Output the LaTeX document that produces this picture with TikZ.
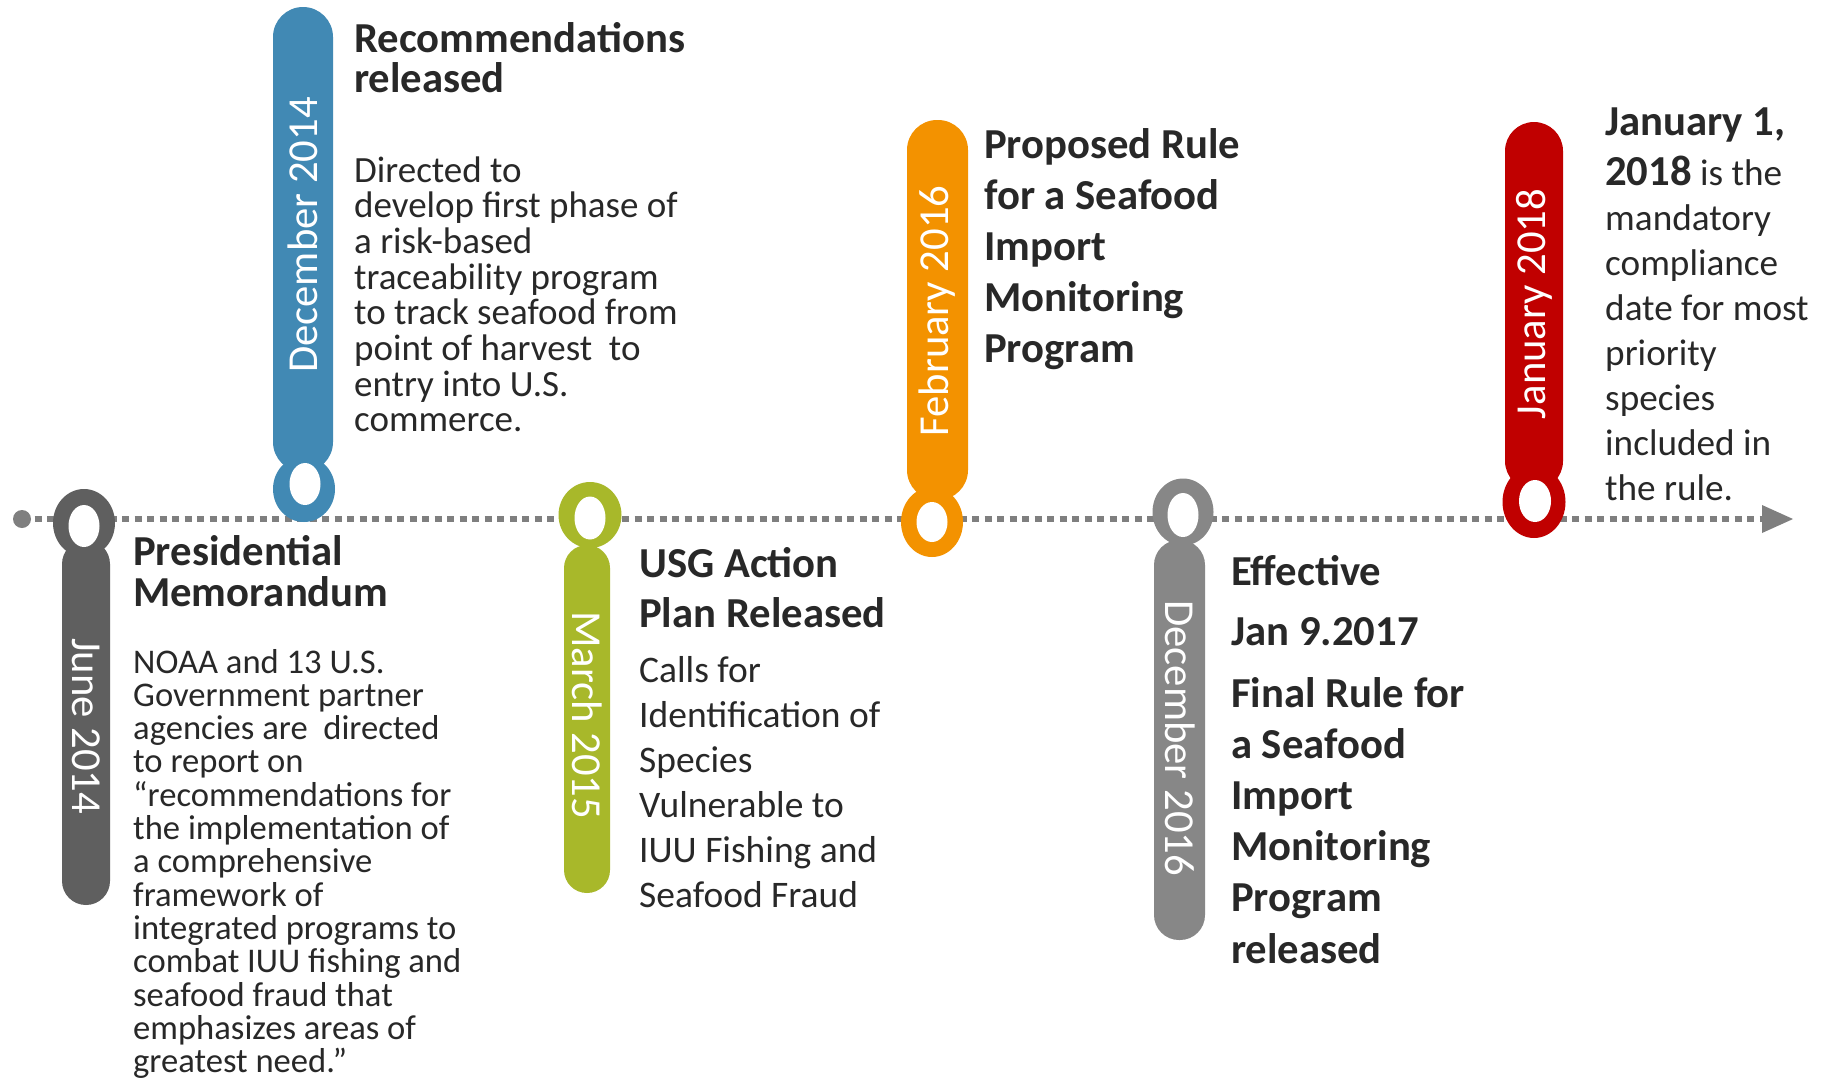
\documentclass[tikz,border=0pt]{standalone}
\usepackage{fontspec}
\setmainfont{Carlito}
\definecolor{cjun}{HTML}{5F5F5F}
\definecolor{cdec}{HTML}{4189B4}
\definecolor{cmar}{HTML}{A8B82A}
\definecolor{cfeb}{HTML}{F39200}
\definecolor{cdsx}{HTML}{878787}
\definecolor{cjan}{HTML}{C00000}
\definecolor{linegray}{HTML}{7F7F7F}
\definecolor{txt}{HTML}{282828}
\tikzset{
  bodytxt/.style={anchor=base west, inner sep=0pt, text=txt, font=\fontsize{#1}{#1}\selectfont},
  headtxt/.style={anchor=base west, inner sep=0pt, text=txt, font=\bfseries\fontsize{#1}{#1}\selectfont},
  datelbl/.style={inner sep=0pt, text=white, font=\fontsize{42.7}{42.7}\selectfont},
  tline/.style={linegray, line width=6pt, dash pattern=on 7pt off 5.5pt},
}
\begin{document}
\begin{tikzpicture}[x=1pt,y=-1pt]
\useasboundingbox (0,0) rectangle (1828,1080);
\fill[white] (0,0) rectangle (1828,1080);
% timeline
\coordinate (tl-start) at (22,519);
\coordinate (tl-end) at (1764,519);
\draw[tline] (tl-start) -- (tl-end);
\fill[linegray] (tl-start) circle[radius=9];
\fill[linegray] (1762,505) -- (1793,519) -- (1762,533) -- cycle;
% June 2014
\fill[cjun, rounded corners=24] (62,540) rectangle (110,905);
\fill[cjun] (84,523) ellipse[x radius=31, y radius=34];
\fill[white] (84,526) ellipse[x radius=15.5, y radius=21];
\node[datelbl, rotate=-90] (d-jun) at (86,726) {June 2014};
% December 2014
\fill[cdec, rounded corners=30] (273,7) rectangle (333,472);
\fill[cdec] (304,489) ellipse[x radius=31, y radius=33];
\fill[white] (305,484) ellipse[x radius=15.5, y radius=21];
\node[datelbl, rotate=90] (d-dec) at (303,235) {December 2014};
% March 2015
\fill[cmar, rounded corners=23] (564,545) rectangle (610,893);
\fill[cmar] (590,515) ellipse[x radius=31.5, y radius=33];
\fill[white] (590,518) ellipse[x radius=15.5, y radius=21.5];
\node[datelbl, rotate=-90] (d-mar) at (587,715) {March 2015};
% February 2016
\fill[cfeb, rounded corners=30] (907,120) rectangle (968,500);
\fill[cfeb] (932,522) ellipse[x radius=31, y radius=35];
\fill[white] (932,522) ellipse[x radius=15.5, y radius=20];
\node[datelbl, rotate=90] (d-feb) at (937,311) {February 2016};
% December 2016
\fill[cdsx, rounded corners=25] (1154,540) rectangle (1205,940);
\fill[cdsx] (1183,512) ellipse[x radius=30.5, y radius=33.5];
\fill[white] (1183,515) ellipse[x radius=15.5, y radius=22];
\node[datelbl, rotate=-90] (d-dsx) at (1180,738) {December 2016};
% January 2018
\fill[cjan, rounded corners=29] (1505,122) rectangle (1563,490);
\fill[cjan] (1534,502) ellipse[x radius=31.5, y radius=36];
\fill[white] (1535,501) ellipse[x radius=16, y radius=21];
\node[datelbl, rotate=90] (d-jan) at (1534,304) {January 2018};
% --- texts ---
% June
\node[headtxt=42.7] (h-jun-1) at (133,565) {Presidential};
\node[headtxt=42.7] (h-jun-2) at (133,606) {Memorandum};
\foreach \t [count=\i] in {NOAA and 13 U.S.,Government partner,agencies are \ directed,to report on,“recommendations for,the implementation of,a comprehensive,framework of,integrated programs to,combat IUU fishing and,seafood fraud that,emphasizes areas of,greatest need.”}
  \node[bodytxt=34.6] (b-jun-\i) at (133,{673+33.3*(\i-1)}) {\t};
% Dec 2014
\node[headtxt=42.7] (h-dec-1) at (354,52) {Recommendations};
\node[headtxt=42.7] (h-dec-2) at (354,92) {released};
\foreach \t [count=\i] in {Directed to,develop first phase of,a risk-based,traceability program,to track seafood from,point of harvest \ to,entry into U.S.,commerce.}
  \node[bodytxt=37] (b-dec-\i) at (354,{182+35.7*(\i-1)}) {\t};
% March 2015
\node[headtxt=42.7] (h-mar-1) at (639,577) {USG Action};
\node[headtxt=42.7] (h-mar-2) at (639,627) {Plan Released};
\foreach \t [count=\i] in {Calls for,Identification of,Species,Vulnerable to,IUU Fishing and,Seafood Fraud}
  \node[bodytxt=37.5] (b-mar-\i) at (639,{682+45*(\i-1)}) {\t};
% Feb 2016
\foreach \t [count=\i] in {Proposed Rule,for a Seafood,Import,Monitoring,Program}
  \node[headtxt=42.7] (h-feb-\i) at (984,{158+51.2*(\i-1)}) {\t};
% Dec 2016
\node[headtxt=42.7] (h-dsx-1) at (1231,585) {Effective};
\node[headtxt=42.7] (h-dsx-2) at (1231,645) {Jan 9.2017};
\foreach \t [count=\i] in {Final Rule for,a Seafood,Import,Monitoring,Program,released}
  \node[headtxt=42.7] (h-dsx-f\i) at (1231,{707+51.2*(\i-1)}) {\t};
% Jan 2018
\node[headtxt=42.7] (h-jan-1) at (1605,135) {January 1,};
\node[bodytxt=37.2] (b-jan-1) at (1605,185) {{\bfseries\fontsize{42.7}{42.7}\selectfont 2018} is the};
\foreach \t [count=\i] in {mandatory,compliance,date for most,priority,species,included in,the rule.}
  \node[bodytxt=37.2] (b-jan-l\i) at (1605,{230+45*(\i-1)}) {\t};
\end{tikzpicture}
\end{document}
